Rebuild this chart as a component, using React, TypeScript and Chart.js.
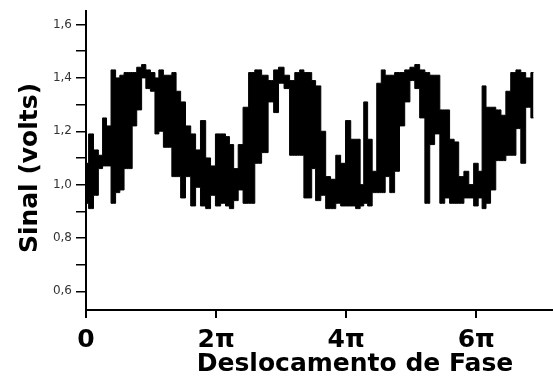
import React, { useEffect, useRef } from "react";
import { Chart, registerables } from "chart.js";

Chart.register(...registerables);

// phase shift in units of π
const phase = [
  0.0, 0.08, 0.15, 0.23, 0.28, 0.35, 0.42, 0.49, 0.55, 0.62, 0.68, 0.74, 0.82, 0.89, 0.95, 1.03,
  1.09, 1.15, 1.23, 1.29, 1.35, 1.42, 1.49, 1.57, 1.65, 1.72, 1.8, 1.88, 1.95, 2.03, 2.11, 2.18,
  2.23, 2.31, 2.37, 2.46, 2.54, 2.65, 2.75, 2.85, 2.92, 3.0, 3.09, 3.17, 3.25, 3.32, 3.38, 3.45,
  3.49, 3.57, 3.65, 3.72, 3.8, 3.88, 3.95, 4.03, 4.11, 4.18, 4.25, 4.29, 4.37, 4.43, 4.51, 4.57,
  4.63, 4.71, 4.78, 4.86, 4.94, 5.02, 5.09, 5.17, 5.25, 5.32, 5.4, 5.48, 5.55, 5.63, 5.69, 5.77,
  5.85, 5.92, 6.0, 6.06, 6.12, 6.18, 6.26, 6.34, 6.42, 6.49, 6.57, 6.65, 6.72, 6.8, 6.88,
];

// upper excursion of the noisy signal (volts)
const signalHigh = [
  1.08, 1.19, 1.13, 1.11, 1.25, 1.22, 1.43, 1.4, 1.41, 1.42, 1.42, 1.42, 1.44, 1.45, 1.43, 1.42,
  1.4, 1.43, 1.41, 1.41, 1.42, 1.35, 1.31, 1.22, 1.19, 1.13, 1.24, 1.1, 1.07, 1.19, 1.19, 1.18,
  1.15, 1.06, 1.15, 1.29, 1.42, 1.43, 1.41, 1.39, 1.43, 1.44, 1.41, 1.39, 1.42, 1.43, 1.42, 1.42,
  1.39, 1.37, 1.2, 1.03, 1.02, 1.11, 1.08, 1.24, 1.17, 1.17, 1.0, 1.31, 1.17, 1.05, 1.38, 1.43,
  1.41, 1.41, 1.42, 1.42, 1.43, 1.44, 1.45, 1.43, 1.42, 1.41, 1.41, 1.28, 1.28, 1.17, 1.16, 1.03,
  1.05, 1.0, 1.08, 1.05, 1.37, 1.29, 1.29, 1.28, 1.26, 1.35, 1.42, 1.43, 1.42, 1.4, 1.42,
];

// lower excursion of the noisy signal (volts)
const signalLow = [
  0.93, 0.91, 0.96, 1.06, 1.07, 1.07, 0.93, 0.97, 0.98, 1.06, 1.06, 1.22, 1.28, 1.4, 1.36, 1.35,
  1.19, 1.2, 1.14, 1.14, 1.03, 1.03, 0.95, 1.03, 0.92, 0.99, 0.92, 0.91, 0.96, 0.92, 0.93, 0.92,
  0.91, 0.94, 0.98, 0.93, 0.93, 1.08, 1.12, 1.31, 1.27, 1.38, 1.36, 1.11, 1.11, 1.11, 0.95, 0.95,
  1.06, 0.94, 0.96, 0.91, 0.91, 0.93, 0.92, 0.92, 0.92, 0.91, 0.92, 0.93, 0.92, 0.97, 0.97, 0.97,
  1.03, 0.97, 1.05, 1.22, 1.31, 1.39, 1.36, 1.25, 0.93, 1.15, 1.19, 0.93, 0.95, 0.93, 0.93, 0.93,
  0.95, 0.95, 0.92, 0.95, 0.91, 0.93, 0.98, 1.09, 1.09, 1.11, 1.11, 1.21, 1.08, 1.29, 1.25,
];

const yTickValues = [0.6, 0.7, 0.8, 0.9, 1.0, 1.1, 1.2, 1.3, 1.4, 1.5, 1.6];
const yLabelValues = [0.6, 0.8, 1.0, 1.2, 1.4, 1.6];
const xTickValues = [0, 2, 4, 6];
const xTickLabels = ["0", "2π", "4π", "6π"];
const yTitle = "Sinal (volts)";
const xTitle = "Deslocamento de Fase";

const axisTitlesPlugin = {
  id: "axisTitles",
  afterDraw(chart: any) {
    const ctx = chart.ctx as CanvasRenderingContext2D;
    ctx.save();
    ctx.fillStyle = "#000";
    ctx.font = 'bold 25px "DejaVu Sans"';
    ctx.textAlign = "center";
    ctx.textBaseline = "middle";
    ctx.fillText(xTitle, 355, 364);
    ctx.translate(30, 168);
    ctx.rotate(-Math.PI / 2);
    ctx.fillText(yTitle, 0, 0);
    ctx.restore();
  },
};

export default function App() {
  const canvasRef = useRef<HTMLCanvasElement | null>(null);

  useEffect(() => {
    document.body.style.margin = "0";
    const canvas = canvasRef.current;
    if (!canvas) return;
    Chart.defaults.font.family = '"DejaVu Sans", sans-serif';

    const chart = new Chart(canvas, {
      type: "line",
      data: {
        datasets: [
          {
            data: phase.map((x, i) => ({ x, y: signalHigh[i] })),
            borderColor: "#000",
            backgroundColor: "#000",
            borderWidth: 1,
            pointRadius: 0,
            stepped: "middle",
            fill: "+1",
          },
          {
            data: phase.map((x, i) => ({ x, y: signalLow[i] })),
            borderColor: "#000",
            backgroundColor: "#000",
            borderWidth: 1,
            pointRadius: 0,
            stepped: "middle",
            fill: false,
          },
        ],
      },
      options: {
        responsive: false,
        animation: false,
        devicePixelRatio: 1,
        layout: { padding: { top: 5, left: 0, right: 0, bottom: 0 } },
        plugins: { legend: { display: false }, tooltip: { enabled: false }, title: { display: false } },
        scales: {
          x: {
            type: "linear",
            min: 0,
            max: 7.18,
            afterBuildTicks: (s: any) => {
              s.ticks = xTickValues.map((v) => ({ value: v }));
            },
            afterFit: (s: any) => {
              s.height = 71;
            },
            ticks: {
              autoSkip: false,
              maxRotation: 0,
              padding: 7,
              color: "#000",
              font: { family: '"DejaVu Sans"', size: 25, weight: "bold" },
              callback: (v: any) => {
                const i = xTickValues.indexOf(Number(v));
                return i >= 0 ? xTickLabels[i] : "";
              },
            },
            grid: { drawOnChartArea: false, tickLength: 8, color: "#000", lineWidth: 2 },
            border: { display: true, color: "#000", width: 2 },
          },
          y: {
            type: "linear",
            min: 0.53,
            max: 1.65,
            afterBuildTicks: (s: any) => {
              s.ticks = yTickValues.map((v) => ({ value: v }));
            },
            afterFit: (s: any) => {
              s.width = 86;
            },
            ticks: {
              autoSkip: false,
              padding: 4,
              color: "#333",
              font: { family: '"DejaVu Sans"', size: 12 },
              callback: (v: any) => {
                const n = Number(v);
                return yLabelValues.some((t) => Math.abs(t - n) < 1e-6)
                  ? n.toFixed(1).replace(".", ",")
                  : "";
              },
            },
            grid: { drawOnChartArea: false, tickLength: 10, color: "#000", lineWidth: 1.5 },
            border: { display: true, color: "#000", width: 2 },
          },
        },
      },
      plugins: [axisTitlesPlugin],
    });

    return () => chart.destroy();
  }, []);

  return (
    <div style={{ position: "fixed", left: 0, top: 0, width: 553, height: 381, background: "#fff" }}>
      <canvas ref={canvasRef} width={553} height={381} />
    </div>
  );
}
